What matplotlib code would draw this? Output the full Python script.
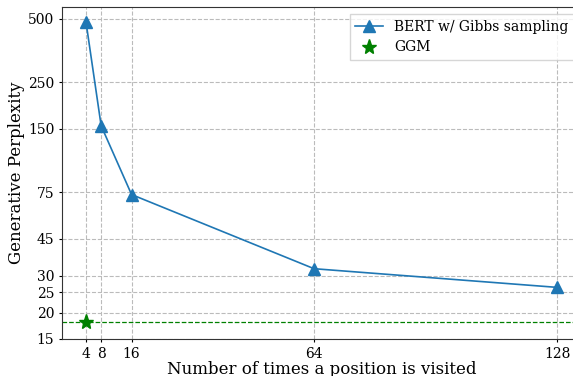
import matplotlib
matplotlib.use("Agg")
import matplotlib.pyplot as plt
from matplotlib.ticker import FixedLocator, NullLocator, ScalarFormatter

plt.rcParams['font.family'] = 'DejaVu Serif'

visits = [4, 8, 16, 64, 128]
bert_ppl = [485, 155, 73, 32.4, 26.4]
ggm_visits = [4]
ggm_ppl = [18.1]
y_ticks = [15, 20, 25, 30, 45, 75, 150, 250, 500]
x_ticks = [4, 8, 16, 64, 128]

fig = plt.figure(figsize=(5.73, 3.76), dpi=100)
ax = fig.add_axes([62 / 573, 1 - 339 / 376, 519 / 573, 332 / 376])

ax.plot(visits, bert_ppl, color="#1f77b4", marker="^", markersize=9,
        linewidth=1.2, label="BERT w/ Gibbs sampling")
ax.plot(ggm_visits, ggm_ppl, color="green", marker="*", markersize=11,
        linestyle="none", label="GGM")
ax.axhline(ggm_ppl[0], color="green", linestyle="--", linewidth=0.9)

ax.set_yscale("log")
ax.set_ylim(15, 570)
ax.set_xlim(-2.3, 134.2)
ax.yaxis.set_major_locator(FixedLocator(y_ticks))
ax.yaxis.set_major_formatter(ScalarFormatter())
ax.yaxis.set_minor_locator(NullLocator())
ax.set_xticks(x_ticks)
ax.tick_params(labelsize=10, length=2.5, pad=3)

ax.grid(True, linestyle="--", color="#bbbbbb", linewidth=0.8)
for s in ax.spines.values():
    s.set_color("#333333")

ax.set_xlabel("Number of times a position is visited", fontsize=12, labelpad=0)
ax.set_ylabel("Generative Perplexity", fontsize=12, labelpad=2)
ax.legend(loc="upper right", fontsize=10, fancybox=False, framealpha=0.8)

fig.savefig("out.png", dpi=100)
